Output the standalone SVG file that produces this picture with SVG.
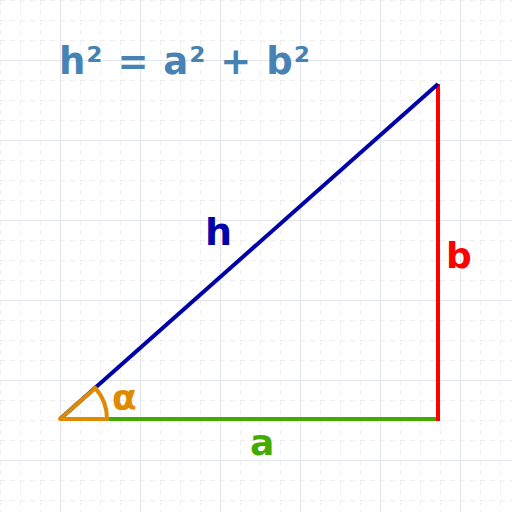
<svg xmlns="http://www.w3.org/2000/svg" width="512" height="512" viewBox="0 0 512 512">
<defs>
<pattern id="minor" x="0" y="0" width="20" height="20" patternUnits="userSpaceOnUse">
<path d="M0,0.5 H20 M0.5,0 V20" fill="none" stroke="#eeeeee" stroke-width="1" stroke-dasharray="5,5"/>
</pattern>
<pattern id="major" x="60" y="60" width="80" height="80" patternUnits="userSpaceOnUse">
<path d="M0,0.5 H80 M0.5,0 V80" fill="none" stroke="#e2e6ea" stroke-width="1"/>
</pattern>
</defs>
<style>
text{font-family:"DejaVu Sans",sans-serif;font-weight:bold}
.side{fill:none;stroke-width:4;stroke-linecap:butt}
</style>
<rect width="512" height="512" fill="#ffffff"/>
<rect width="512" height="512" fill="url(#minor)"/>
<rect width="512" height="512" fill="url(#major)"/>
<g id="connectors">
<line id="side-a" class="side" x1="60" y1="419" x2="440" y2="419" stroke="#44aa00"/>
<line id="side-b" class="side" x1="438" y1="84" x2="438" y2="421" stroke="#ff0000"/>
<line id="side-h" class="side" x1="60" y1="419" x2="438" y2="84" stroke="#0000aa"/>
</g>
<g id="angle">
<path d="M60,419 L95.2,387.9 A47,47 0 0 1 107,419 Z" fill="none" stroke="#e08a00" stroke-width="4" stroke-linejoin="round"/>
<text x="112" y="410" font-size="36" fill="#e08a00">α</text>
</g>
<g id="label-h"><text x="205" y="245" font-size="38" fill="#0000aa">h</text></g>
<g id="label-b"><text x="446" y="268" font-size="36" fill="#ff0000">b</text></g>
<g id="label-a"><text x="250" y="455" font-size="36" fill="#44aa00">a</text></g>
<g id="formula"><text x="59" y="74" font-size="37" fill="#4682b4" letter-spacing="1">h² = a² + b²</text></g>
</svg>
